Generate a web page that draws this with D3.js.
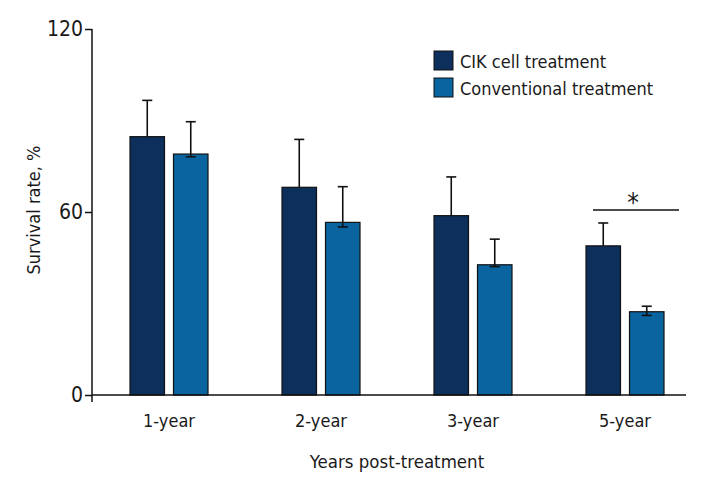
<!DOCTYPE html>
<html>
<head>
<meta charset="utf-8">
<script src="https://cdn.jsdelivr.net/npm/d3@7"></script>
<style>
  body { margin: 0; background: #fff; }
  text { font-family: "DejaVu Sans Condensed", "Liberation Sans Narrow", sans-serif; fill: #1a1a1a; }
</style>
</head>
<body>
<svg id="chart" width="720" height="480"></svg>
<script>
const years = ['1-year', '2-year', '3-year', '5-year'];
const series = ['CIK cell treatment', 'Conventional treatment'];
const cikValues = [84.7, 68.1, 58.8, 48.9];
const convValues = [79.0, 56.6, 42.7, 27.3];
const cikErrUp = [11.9, 15.7, 12.7, 7.5];
const cikErrDown = [0, 0, 0, 0];
const convErrUp = [10.6, 11.7, 8.4, 1.8];
const convErrDown = [0.9, 1.5, 0.6, 1.2];
const yTicks = [0, 60, 120];
const colors = ['#0c2f5c', '#0a649f'];

const fontStack = '"DejaVu Sans Condensed", "Liberation Sans Narrow", sans-serif';
const svg = d3.select('#chart');

const y = d3.scaleLinear().domain([0, 120]).range([395, 29]);
const x0 = d3.scaleBand().domain(years).range([93, 701]);
const x1 = d3.scaleBand().domain(series).range([-39, 39]).paddingInner(0.207);

const rows = [];
years.forEach((yr, i) => {
    rows.push({ year: yr, s: series[0], v: cikValues[i], up: cikErrUp[i], down: cikErrDown[i] });
    rows.push({ year: yr, s: series[1], v: convValues[i], up: convErrUp[i], down: convErrDown[i] });
});
const color = d3.scaleOrdinal().domain(series).range(colors);
const cx = d => x0(d.year) + x0.bandwidth() / 2 + x1(d.s);

// bars
svg.selectAll('.bar')
    .data(rows)
    .enter()
    .append('rect')
    .attr('class', 'bar')
    .attr('x', cx)
    .attr('y', d => y(d.v))
    .attr('width', x1.bandwidth())
    .attr('height', d => y(0) - y(d.v))
    .attr('fill', d => color(d.s))
    .attr('stroke', '#111')
    .attr('stroke-width', 1.2);

// error bars
const eb = svg.selectAll('.err')
    .data(rows)
    .enter()
    .append('g')
    .attr('class', 'err')
    .attr('stroke', '#111')
    .attr('stroke-width', 1.6);
const mid = d => cx(d) + x1.bandwidth() / 2;
eb.append('line')
    .attr('x1', mid).attr('x2', mid)
    .attr('y1', d => y(d.v - d.down)).attr('y2', d => y(d.v + d.up));
eb.append('line')
    .attr('x1', d => mid(d) - 5).attr('x2', d => mid(d) + 5)
    .attr('y1', d => y(d.v + d.up)).attr('y2', d => y(d.v + d.up));
eb.filter(d => d.down > 0).append('line')
    .attr('x1', d => mid(d) - 5).attr('x2', d => mid(d) + 5)
    .attr('y1', d => y(d.v - d.down)).attr('y2', d => y(d.v - d.down));

// y axis
const yAxis = d3.axisLeft(y).tickValues(yTicks).tickSize(7).tickPadding(2);
const gy = svg.append('g').attr('transform', 'translate(92,0)').call(yAxis);
gy.select('.domain').remove();
gy.append('line').attr('x1', 0).attr('x2', 0).attr('y1', y(120)).attr('y2', y(0) + 7)
    .attr('stroke', '#111').attr('stroke-width', 1.5);
gy.selectAll('.tick line').attr('stroke', '#111').attr('stroke-width', 1.5);
gy.selectAll('.tick text').attr('font-size', 21).attr('fill', '#1a1a1a')
    .style('font-family', fontStack);

// x axis
const xAxis = d3.axisBottom(x0).tickSize(0).tickPadding(19);
const gx = svg.append('g').attr('transform', `translate(0,${y(0)})`).call(xAxis);
gx.select('.domain').remove();
gx.append('line').attr('x1', 92).attr('x2', 686).attr('y1', 0).attr('y2', 0)
    .attr('stroke', '#111').attr('stroke-width', 1.5);
gx.selectAll('.tick text').attr('font-size', 18).attr('fill', '#1a1a1a')
    .style('font-family', fontStack);

// axis titles
svg.append('text')
    .attr('x', 397).attr('y', 468)
    .attr('text-anchor', 'middle')
    .attr('font-size', 18.5)
    .text('Years post-treatment');
svg.append('text')
    .attr('transform', 'translate(40,210) rotate(-90)')
    .attr('text-anchor', 'middle')
    .attr('font-size', 18)
    .text('Survival rate, %');

// significance marker
const g5 = x0('5-year');
svg.append('line')
    .attr('x1', g5 + 44).attr('x2', g5 + 130)
    .attr('y1', 210).attr('y2', 210)
    .attr('stroke', '#111').attr('stroke-width', 1.5);
svg.append('text')
    .attr('x', g5 + x0.bandwidth() / 2 + 8).attr('y', 212)
    .attr('text-anchor', 'middle')
    .attr('font-size', 26)
    .text('*');

// legend
const legend = svg.append('g').attr('transform', 'translate(434,51)');
series.forEach((s, i) => {
    const row = legend.append('g').attr('transform', `translate(0,${i * 27})`);
    row.append('rect').attr('width', 19).attr('height', 19)
        .attr('fill', color(s)).attr('stroke', '#111').attr('stroke-width', 1);
    row.append('text').attr('x', 26).attr('y', 17).attr('font-size', 18).text(s);
});
</script>
</body>
</html>
